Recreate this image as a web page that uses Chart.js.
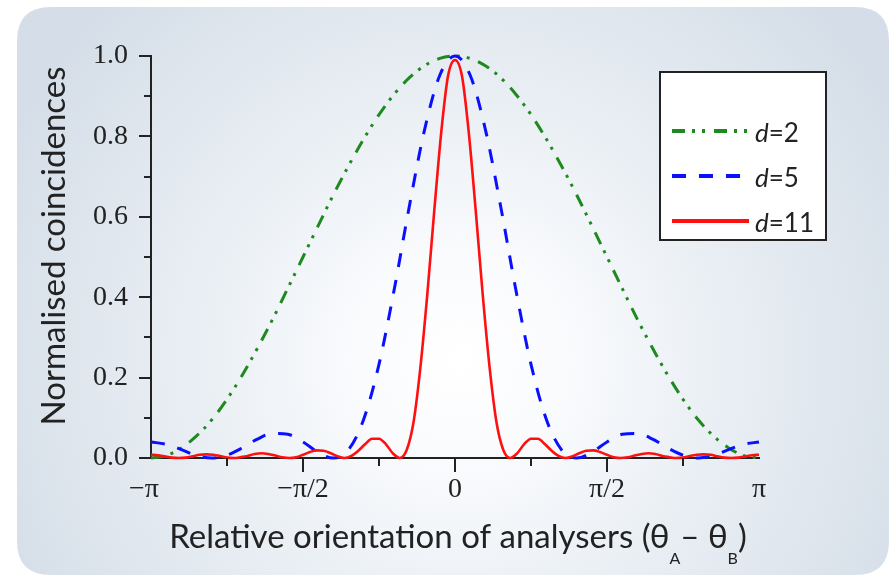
<!DOCTYPE html>
<html><head><meta charset="utf-8">
<script src="https://cdn.jsdelivr.net/npm/chart.js@4.4.1/dist/chart.umd.min.js"></script>
<style>html,body{margin:0;padding:0;background:#fff;}canvas{display:block;}</style>
</head><body>
<canvas id="c" width="896" height="577"></canvas>
<script>
// x values are in units of pi (theta / pi)
const xCoarse = [-1,-0.95,-0.9,-0.85,-0.8,-0.75,-0.7,-0.65,-0.6,-0.55,-0.5,-0.45,-0.4,-0.35,-0.3,-0.25,-0.2,-0.15,-0.1,-0.05,0,
  0.05,0.1,0.15,0.2,0.25,0.3,0.35,0.4,0.45,0.5,0.55,0.6,0.65,0.7,0.75,0.8,0.85,0.9,0.95,1];
const yGreen = [0,0.006,0.025,0.055,0.095,0.146,0.206,0.273,0.345,0.422,0.5,0.578,0.655,0.727,0.794,0.854,0.905,0.946,0.976,0.994,1,
  0.994,0.976,0.946,0.905,0.854,0.794,0.727,0.655,0.578,0.5,0.422,0.345,0.273,0.206,0.146,0.095,0.055,0.025,0.006,0];
const yBlue = [0.04,0.034,0.021,0.006,0,0.007,0.025,0.047,0.061,0.059,0.04,0.014,0,0.021,0.097,0.233,0.419,0.627,0.817,0.952,1,
  0.952,0.817,0.627,0.419,0.233,0.097,0.021,0,0.014,0.04,0.059,0.061,0.047,0.025,0.007,0,0.006,0.021,0.034,0.04];
const xRed = [-1,-0.977,-0.955,-0.932,-0.909,-0.886,-0.864,-0.841,-0.818,-0.795,-0.773,-0.75,-0.727,-0.705,-0.682,-0.659,-0.636,-0.614,-0.591,-0.568,-0.545,-0.523,-0.5,
  -0.477,-0.455,-0.432,-0.409,-0.386,-0.364,-0.341,-0.318,-0.295,-0.273,-0.25,-0.227,-0.205,-0.182,-0.159,-0.136,-0.114,-0.091,-0.068,-0.045,-0.023,0,
  0.023,0.045,0.068,0.091,0.114,0.136,0.159,0.182,0.205,0.227,0.25,0.273,0.295,0.318,0.341,0.364,0.386,0.409,0.432,0.455,0.477,
  0.5,0.523,0.545,0.568,0.591,0.614,0.636,0.659,0.682,0.705,0.727,0.75,0.773,0.795,0.818,0.841,0.864,0.886,0.909,0.932,0.955,0.977,1];
const yRed = [0.008,0.007,0.004,0.001,0,0.001,0.004,0.008,0.009,0.008,0.005,0.001,0,0.002,0.005,0.010,0.012,0.010,0.006,0.002,0,0.002,0.008,
  0.015,0.019,0.018,0.012,0.004,0,0.005,0.018,0.035,0.048,0.048,0.034,0.012,0,0.020,0.091,0.224,0.408,0.617,0.812,0.950,0.99,
  0.950,0.812,0.617,0.408,0.224,0.091,0.020,0,0.012,0.034,0.048,0.048,0.035,0.018,0.005,0,0.004,0.012,0.018,0.019,0.015,
  0.008,0.002,0,0.002,0.006,0.010,0.012,0.010,0.005,0.002,0,0.001,0.005,0.008,0.009,0.008,0.004,0.001,0,0.001,0.004,0.007,0.008];
const seriesNames = ['2','5','11'];
const xTickLabels = ['\u2212\u03c0  ','','\u2212\u03c0/2','','0','','\u03c0/2','','\u03c0'];
const yTickLabels = ['0.0','','0.2','','0.4','','0.6','','0.8','','1.0'];
const yTitle = 'Normalised coincidences';
const xTitleParts = [['Relative orientation of analysers (\u03b8',false],['A',true],['\u2013 \u03b8',false],['B',true],[')',false]];

const SANS = 'Lato, "Open Sans", sans-serif';
const SERIF = '"Liberation Serif", "Times New Roman", serif';
const INK = '#222';

function pts(xs, ys){ return xs.map((x,i)=>({x:x, y:ys[i]})); }

function roundRectPath(ctx,x,y,w,h,r){
  ctx.beginPath();
  ctx.moveTo(x+r,y); ctx.lineTo(x+w-r,y); ctx.quadraticCurveTo(x+w,y,x+w,y+r);
  ctx.lineTo(x+w,y+h-r); ctx.quadraticCurveTo(x+w,y+h,x+w-r,y+h);
  ctx.lineTo(x+r,y+h); ctx.quadraticCurveTo(x,y+h,x,y+h-r);
  ctx.lineTo(x,y+r); ctx.quadraticCurveTo(x,y,x+r,y); ctx.closePath();
}

const bgPlugin = {
  id:'bg',
  beforeDraw(chart){
    const ctx = chart.ctx; ctx.save();
    ctx.fillStyle = '#fff'; ctx.fillRect(0,0,chart.width,chart.height);
    const g = ctx.createRadialGradient(460,360,0,460,360,500);
    g.addColorStop(0,'#ffffff'); g.addColorStop(0.2,'#fafbfd'); g.addColorStop(0.6,'#e6ecf2'); g.addColorStop(1,'#d5dee8');
    ctx.fillStyle = g; roundRectPath(ctx,17,7,872,568,34); ctx.fill();
    ctx.restore();
  }
};

const tickPlugin = {
  id:'tickmarks',
  afterDraw(chart){
    const ctx = chart.ctx, ca = chart.chartArea;
    const xs = chart.scales.x, ys = chart.scales.y;
    ctx.save(); ctx.strokeStyle = INK; ctx.lineWidth = 2; ctx.lineCap = 'butt';
    ys.ticks.forEach((t,i)=>{
      const p = Math.round(ys.getPixelForValue(t.value));
      const len = yTickLabels[i] ? 12 : 7;
      ctx.beginPath(); ctx.moveTo(ca.left - len, p); ctx.lineTo(ca.left, p); ctx.stroke();
    });
    xs.ticks.forEach((t,i)=>{
      if (i === 0 || i === xs.ticks.length-1) return;
      const p = Math.round(xs.getPixelForValue(t.value));
      const len = xTickLabels[i] ? 14 : 8;
      ctx.beginPath(); ctx.moveTo(p, ca.bottom); ctx.lineTo(p, ca.bottom + len); ctx.stroke();
    });
    ctx.restore();
  }
};

const titlePlugin = {
  id:'titles',
  afterDraw(chart){
    const ctx = chart.ctx; ctx.save(); ctx.fillStyle = INK;
    // y title
    ctx.font = '33px ' + SANS; ctx.textAlign = 'center'; ctx.textBaseline = 'alphabetic';
    ctx.translate(65, 246); ctx.rotate(-Math.PI/2); ctx.fillText(yTitle, 0, 0);
    ctx.setTransform(1,0,0,1,0,0);
    // x title with subscripts
    const mainFont = '33px ' + SANS, subFont = '16px ' + SANS;
    let total = 0;
    xTitleParts.forEach(([s,sub])=>{ ctx.font = sub ? subFont : mainFont; total += ctx.measureText(s).width; });
    let x = 458 - total/2; ctx.textAlign = 'left';
    xTitleParts.forEach(([s,sub])=>{
      ctx.font = sub ? subFont : mainFont;
      ctx.fillText(s, x, sub ? 564 : 548);
      x += ctx.measureText(s).width;
    });
    ctx.restore();
  }
};

const legendPlugin = {
  id:'boxlegend',
  afterDraw(chart){
    const ctx = chart.ctx; ctx.save();
    ctx.fillStyle = '#fff'; ctx.fillRect(660,72,166,168);
    ctx.strokeStyle = INK; ctx.lineWidth = 2; ctx.strokeRect(660,72,166,168);
    const rows = [131,176,221];
    chart.data.datasets.forEach((ds,i)=>{
      const y = rows[i];
      ctx.strokeStyle = ds.borderColor; ctx.lineWidth = 4; ctx.setLineDash(ds.borderDash || []);
      ctx.beginPath(); ctx.moveTo(672,y); ctx.lineTo(749,y); ctx.stroke();
      ctx.setLineDash([]);
      ctx.fillStyle = INK; ctx.textBaseline = 'middle'; ctx.textAlign = 'left';
      ctx.font = 'italic 26px ' + SANS; ctx.fillText('d', 755, y + 3);
      const w = ctx.measureText('d').width;
      ctx.font = '26px ' + SANS; ctx.fillText('=' + seriesNames[i], 755 + w, y + 3);
    });
    ctx.restore();
  }
};

const tickFont = {family: SERIF, size: 28};

new Chart(document.getElementById('c'), {
  type: 'line',
  data: {
    datasets: [
      {label:'d=2', data: pts(xCoarse, yGreen), borderColor:'#1e8a1e', borderWidth:3, borderDash:[13,7,3,7,3,9], order:3},
      {label:'d=5', data: pts(xCoarse, yBlue), borderColor:'#0a10ff', borderWidth:3, borderDash:[14,13], order:2},
      {label:'d=11', data: pts(xRed, yRed), borderColor:'#ff1010', borderWidth:2.6, order:1}
    ]
  },
  options: {
    responsive:false, animation:false, devicePixelRatio:1,
    layout:{padding:{left:0, right:137, top:56, bottom:0}},
    elements:{point:{radius:0}, line:{cubicInterpolationMode:'monotone', borderJoinStyle:'round', fill:false}},
    datasets:{line:{clip:false}},
    plugins:{legend:{display:false}, tooltip:{enabled:false}},
    scales:{
      x:{type:'linear', min:-1, max:1,
        ticks:{stepSize:0.25, autoSkip:false, maxRotation:0, minRotation:0, padding:15, color:INK, font:tickFont,
          callback:(v,i)=>xTickLabels[i]},
        grid:{display:false, drawTicks:false}, border:{display:true, color:INK, width:2},
        afterFit(s){ s.height = 119; }},
      y:{type:'linear', min:0, max:1,
        ticks:{stepSize:0.1, autoSkip:false, padding:23, color:INK, font:tickFont,
          callback:(v,i)=>yTickLabels[i]},
        grid:{display:false, drawTicks:false}, border:{display:true, color:INK, width:2},
        afterFit(s){ s.width = 151; }}
    }
  },
  plugins:[bgPlugin, tickPlugin, titlePlugin, legendPlugin]
});
</script>
</body></html>
